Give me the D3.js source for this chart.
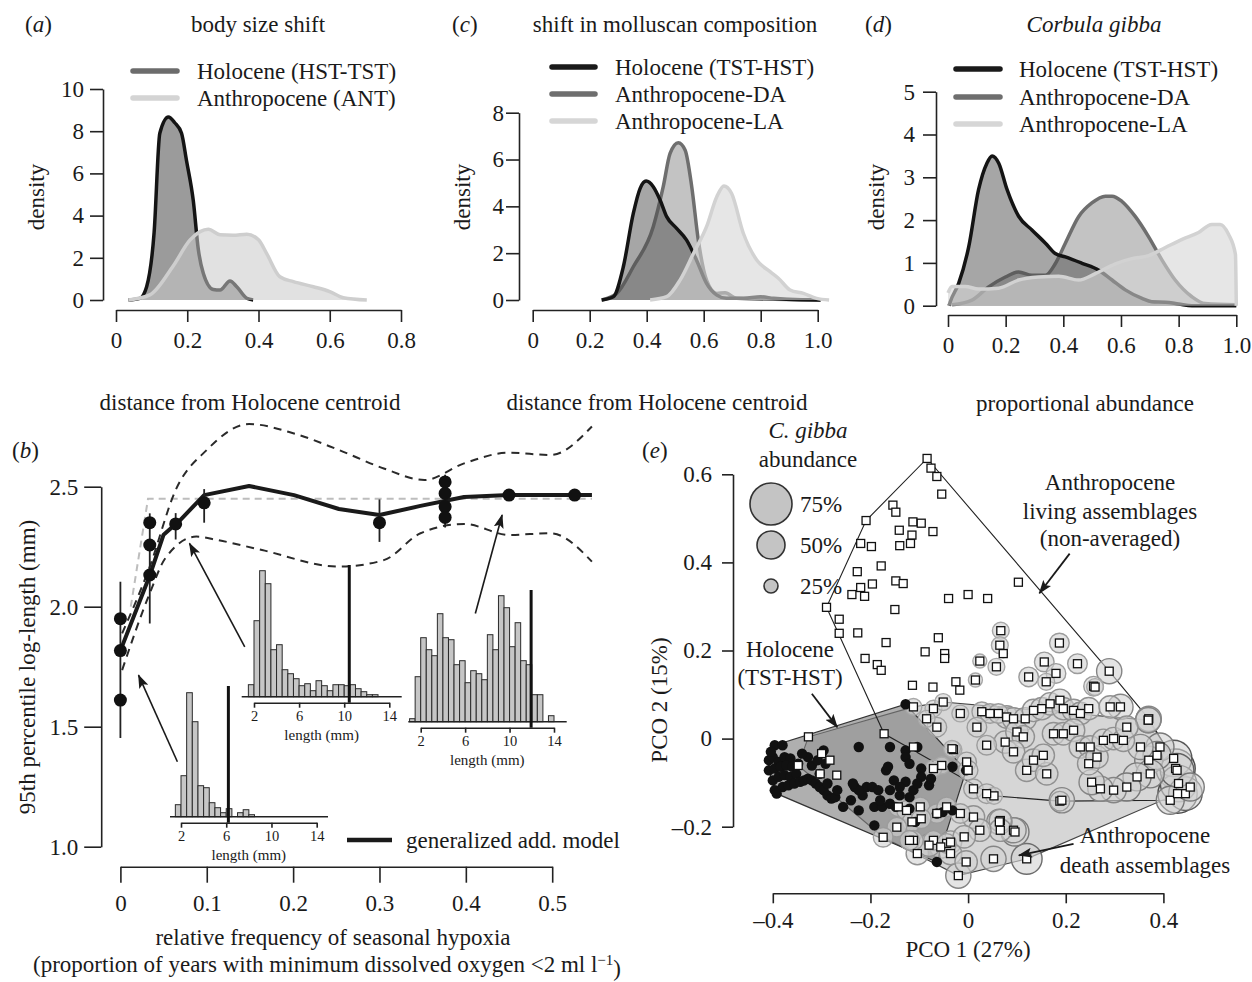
<!DOCTYPE html>
<meta charset="utf-8">
<style>
body { margin: 0; background: #fff; }
</style>
<body>
<script src="https://d3js.org/d3.v7.min.js"></script>
<script>
// ---------- data ----------
// (a) body size shift, density curves [x, density]
var holoA = [[0.035,0],[0.067,0.08],[0.086,0.63],[0.107,3.2],[0.123,7.9],[0.147,8.67],[0.165,8.4],[0.184,7.9],[0.198,6.6],[0.217,4.7],[0.231,2.4],[0.245,1.27],[0.273,0.5],[0.292,0.47],[0.32,0.9],[0.339,0.63],[0.367,0.08],[0.385,0]];
var anthA = [[0.035,0],[0.095,0.24],[0.16,1.6],[0.208,2.85],[0.236,3.24],[0.259,3.35],[0.292,3.09],[0.329,3.07],[0.367,3.12],[0.4,2.85],[0.423,2.2],[0.46,1.1],[0.498,0.87],[0.554,0.63],[0.6,0.4],[0.638,0.11],[0.704,0]];
// (c) shift in molluscan composition
var holoC = [[0.242,0],[0.283,0.14],[0.318,1.42],[0.353,3.7],[0.377,4.77],[0.398,5.08],[0.423,4.84],[0.447,4.27],[0.47,3.56],[0.505,3.06],[0.54,2.56],[0.575,1.7],[0.61,0.71],[0.646,0.21],[0.68,0.07],[0.74,0.07],[0.8,0.14],[0.845,0.07],[0.89,0.03],[1.01,0]];
var daC = [[0.242,0],[0.295,0.28],[0.353,1.42],[0.423,3.13],[0.458,4.84],[0.482,6.26],[0.511,6.72],[0.535,6.4],[0.558,4.84],[0.581,2.56],[0.61,0.85],[0.646,0.28],[0.675,0.31],[0.716,0.07],[1.01,0]];
var laC = [[0.412,0],[0.47,0.14],[0.517,0.85],[0.564,1.99],[0.61,3.13],[0.646,4.41],[0.671,4.87],[0.698,4.55],[0.739,2.85],[0.786,1.71],[0.833,1.21],[0.862,0.93],[0.903,0.43],[0.95,0.28],[0.996,0.07],[1.04,0]];
// (d) Corbula gibba
var holoD = [[0.004,0],[0.008,0.09],[0.037,0.52],[0.072,1.38],[0.106,2.71],[0.135,3.33],[0.153,3.5],[0.176,3.33],[0.205,2.71],[0.245,2.09],[0.291,1.77],[0.338,1.46],[0.372,1.22],[0.407,1.14],[0.465,0.99],[0.523,0.83],[0.569,0.6],[0.615,0.37],[0.673,0.17],[0.707,0.09],[0.754,0.08],[0.8,0.04],[0.846,0],[1.0,0]];
var daD = [[0.014,0.02],[0.083,0.13],[0.141,0.44],[0.199,0.67],[0.245,0.79],[0.291,0.71],[0.338,0.71],[0.372,0.98],[0.407,1.46],[0.453,2.08],[0.499,2.4],[0.546,2.56],[0.569,2.56],[0.603,2.44],[0.65,2.08],[0.696,1.61],[0.742,1.07],[0.788,0.6],[0.846,0.21],[0.892,0.05],[1.0,0.02]];
var laD = [[0.0,0.3],[0.014,0.45],[0.06,0.45],[0.106,0.39],[0.176,0.41],[0.245,0.6],[0.314,0.67],[0.384,0.69],[0.453,0.6],[0.511,0.75],[0.581,0.98],[0.638,1.1],[0.696,1.17],[0.754,1.36],[0.812,1.55],[0.869,1.71],[0.915,1.9],[0.944,1.9],[0.973,1.67],[0.997,1.2],[1.0,0]];

// (b) 95th percentile log-length vs hypoxia
var bPts = [[0,1.95],[0,1.817],[0,1.611],[0.034,2.35],[0.034,2.257],[0.034,2.132],[0.064,2.345],[0.097,2.433],[0.30,2.35],[0.376,2.52],[0.376,2.472],[0.376,2.417],[0.376,2.372],[0.45,2.465],[0.526,2.465]];
var bErr = [[0,1.453,2.104],[0.034,1.93,2.389],[0.064,2.28,2.39],[0.097,2.35,2.49],[0.30,2.27,2.447],[0.376,2.33,2.55]];
var gamLine = [[0,1.817],[0.034,2.13],[0.05,2.30],[0.069,2.36],[0.097,2.465],[0.149,2.503],[0.201,2.465],[0.253,2.407],[0.30,2.382],[0.3475,2.42],[0.398,2.457],[0.45,2.465],[0.546,2.465]];
var ciUp = [[0.002,1.889],[0.034,2.167],[0.064,2.486],[0.1,2.653],[0.149,2.761],[0.201,2.722],[0.253,2.653],[0.305,2.576],[0.352,2.528],[0.398,2.597],[0.45,2.642],[0.498,2.632],[0.546,2.751]];
var ciLo = [[0.002,1.736],[0.034,2.056],[0.052,2.202],[0.088,2.292],[0.112,2.278],[0.164,2.236],[0.253,2.167],[0.305,2.194],[0.3475,2.306],[0.398,2.345],[0.45,2.299],[0.498,2.306],[0.546,2.188]];
var nullLine = [[0.012,2.0],[0.032,2.45],[0.546,2.45]];
var bArrows = [[0.066,1.354,0.021,1.715],[0.144,1.833,0.080,2.264],[0.411,1.972,0.442,2.382]];

// inset histograms (0.5 mm bins), counts per bin, first bin start, 95th percentile
var hist1 = [12,41,124,95,31,29,14,9,4,8,0,4,7,2];
var hist2 = [12,76,126,113,47,52,27,23,18,11,13,6,16,11,6,12,12,11,12,8,5,2,2];
var hist3 = [3,45,84,72,66,108,84,82,57,61,39,51,48,42,87,72,126,114,75,99,61,57,27,27,0,6];
var histStart = [1.5, 1.5, 1.0];
var histQ95 = [6.19, 10.45, 11.94];

// (e) PCO ordination
var holoPts = [[-0.396,-0.015],[-0.380,-0.015],[-0.408,-0.049],[-0.400,-0.042],[-0.388,-0.053],[-0.376,-0.042],[-0.364,-0.045],
[-0.408,-0.072],[-0.396,-0.068],[-0.384,-0.064],[-0.372,-0.061],[-0.360,-0.064],[-0.348,-0.057],
[-0.400,-0.095],[-0.388,-0.087],[-0.376,-0.083],[-0.364,-0.087],[-0.352,-0.080],
[-0.396,-0.117],[-0.380,-0.110],[-0.368,-0.106],[-0.356,-0.102],[-0.344,-0.098],[-0.336,-0.095],[-0.328,-0.091],
[-0.320,-0.095],[-0.312,-0.102],[-0.304,-0.110],[-0.296,-0.117],[-0.288,-0.129],[-0.280,-0.136],[-0.272,-0.133],
[-0.256,-0.155],[-0.240,-0.140],[-0.224,-0.019],[-0.232,-0.110],[-0.208,-0.110],[-0.196,-0.110],[-0.184,-0.117],
[-0.216,-0.129],[-0.224,-0.163],[-0.192,-0.155],[-0.192,-0.197],[-0.176,-0.155],[-0.160,-0.148],[-0.160,-0.117],
[-0.152,-0.095],[-0.168,-0.072],[-0.164,-0.064],[-0.160,-0.019],[-0.128,0.078],[-0.128,-0.027],[-0.128,-0.042],
[-0.120,-0.057],[-0.104,-0.019],[-0.096,-0.068],[-0.096,-0.087],[-0.080,-0.106],[-0.076,-0.091],[-0.140,-0.129],
[-0.120,-0.133],[-0.112,-0.117],[-0.104,-0.102],[-0.128,-0.098],[-0.120,-0.159],[-0.108,-0.189],[-0.064,-0.170],
[-0.052,-0.167],[-0.032,-0.064],[-0.032,-0.163],[-0.004,-0.072],[-0.064,-0.280],[-0.140,-0.110],[-0.148,-0.155],
[-0.180,-0.140],[-0.268,-0.117],[-0.288,-0.102],[-0.304,-0.080],[-0.296,-0.027],[-0.328,-0.042],[-0.340,-0.034],
[-0.320,-0.061],[-0.308,-0.049],[-0.292,-0.057],[-0.224,-0.117],[-0.236,-0.102],[-0.392,-0.125],[-0.404,-0.030]];

// living assemblages [x, y, C. gibba proportion]
var laPts = [[-0.084,0.636,0],[-0.076,0.614,0],[-0.064,0.595,0],[-0.054,0.555,0],[-0.209,0.495,0],[-0.154,0.530,0],[-0.148,0.514,0],
[-0.113,0.492,0],[-0.096,0.489,0],[-0.072,0.470,0],[-0.141,0.473,0],[-0.115,0.462,0],[-0.140,0.438,0],[-0.118,0.443,0],
[-0.220,0.443,0],[-0.198,0.436,0],[-0.178,0.392,0],[-0.227,0.379,0],[-0.220,0.343,0],[-0.196,0.351,0],[-0.212,0.323,0],
[-0.238,0.327,0],[-0.148,0.358,0],[-0.133,0.352,0],[-0.150,0.293,0],[-0.290,0.298,0],[-0.264,0.271,0],[-0.264,0.239,0],
[-0.226,0.240,0],[-0.168,0.218,0],[-0.211,0.182,0],[-0.186,0.168,0],[-0.178,0.155,0],[-0.040,0.318,0],[0.000,0.327,0],
[0.040,0.318,0],[0.103,0.355,0],[-0.061,0.229,0],[-0.088,0.197,0],[-0.048,0.193,0.1],[-0.048,0.182,0],[-0.114,0.121,0],
[-0.072,0.117,0],[-0.025,0.129,0.1],[-0.017,0.110,0.1],[0.067,0.245,0.3],[0.065,0.212,0.3],[0.072,0.193,0.15],
[0.187,0.217,0.35],[0.156,0.174,0.35],[0.224,0.170,0.35],[0.289,0.153,0.45],[0.024,0.176,0.25],[0.058,0.163,0.3],
[0.015,0.133,0.25],[0.124,0.140,0.35],[0.180,0.148,0.35],[0.257,0.119,0.35],[0.160,0.129,0.3],
[-0.172,0.011,0],[-0.030,-0.025,0.3],[0.053,-0.130,0.3],[0.188,-0.142,0.35],[0.414,-0.140,0.5],[0.445,-0.125,0.6],
[0.369,0.042,0.45],[0.260,0.117,0.3],[0.455,-0.110,0.5],
[0.028,0.061,0.35],[0.045,0.057,0.35],[0.062,0.057,0.35],[0.079,0.049,0.4],[0.093,0.045,0.4],[0.117,0.045,0.4],
[0.134,0.064,0.4],[0.151,0.068,0.4],[0.168,0.079,0.4],[0.188,0.087,0.4],[0.195,0.068,0.4],[0.216,0.064,0.4],
[0.230,0.057,0.4],[0.247,0.068,0.4],[0.291,0.072,0.4],[0.312,0.072,0.45],[0.370,0.045,0.45],[0.038,-0.015,0.35],
[0.076,-0.008,0.4],[0.100,0.015,0.4],[0.113,0.004,0.4],[0.093,-0.030,0.4],[0.120,-0.072,0.4],[0.134,-0.049,0.4],
[0.161,-0.080,0.4],[0.154,-0.038,0.4],[0.175,0.011,0.4],[0.195,0.011,0.4],[0.216,0.019,0.4],[0.230,-0.019,0.4],
[0.250,-0.019,0.4],[0.247,-0.057,0.4],[0.264,-0.042,0.4],[0.277,-0.004,0.4],[0.298,0.000,0.4],[0.318,-0.004,0.4],
[0.325,0.026,0.4],[0.353,-0.019,0.45]];

// death assemblages [x, y, C. gibba proportion]
var daPts = [[-0.112,0.072,0.3],[-0.071,0.068,0.3],[-0.051,0.083,0.3],[-0.085,0.045,0.3],[-0.064,0.026,0.35],[-0.016,0.057,0.3],
[0.018,0.026,0.35],[-0.003,-0.053,0.35],[0.000,-0.072,0.35],[-0.054,-0.061,0.3],[-0.071,-0.068,0.3],[0.011,-0.114,0.35],
[0.038,-0.125,0.35],[-0.033,-0.023,0.3],[-0.112,-0.019,0.2],[-0.300,-0.034,0.05],[-0.283,-0.049,0.05],[-0.303,-0.080,0.05],
[-0.348,-0.061,0.05],[-0.327,0.004,0.05],[-0.269,-0.083,0.05],[-0.143,-0.155,0.35],[-0.126,-0.163,0.35],[-0.098,-0.155,0.35],
[-0.064,-0.170,0.35],[-0.044,-0.155,0.35],[-0.016,-0.170,0.35],[0.011,-0.178,0.4],[0.066,-0.186,0.4],[0.093,-0.208,0.45],
[0.066,-0.208,0.4],[0.024,-0.208,0.4],[-0.115,-0.189,0.35],[-0.146,-0.201,0.35],[-0.112,-0.231,0.35],[-0.071,-0.231,0.35],
[-0.044,-0.238,0.35],[-0.174,-0.224,0.35],[-0.120,-0.231,0.35],[-0.104,-0.261,0.4],[-0.056,-0.246,0.4],[-0.036,-0.235,0.4],
[-0.036,-0.261,0.4],[-0.004,-0.280,0.4],[-0.020,-0.311,0.45],[0.052,-0.273,0.45],[0.120,-0.273,0.55],[0.096,-0.212,0.5],
[0.064,-0.189,0.45],[-0.008,-0.223,0.4],[-0.080,-0.242,0.4],[-0.096,-0.182,0.35],[0.421,-0.045,0.65],[0.425,-0.068,0.7],
[0.429,-0.125,0.7],[0.431,-0.102,0.65],[0.428,-0.072,0.6],[0.393,-0.019,0.5],[0.370,-0.049,0.5],[0.387,-0.038,0.5],
[0.373,-0.080,0.5],[0.346,-0.087,0.5],[0.325,-0.110,0.5],[0.298,-0.117,0.45],[0.271,-0.114,0.45],[0.253,-0.099,0.45],
[0.192,-0.140,0.45],[0.369,0.042,0.45]];
var sizeLevels = [0.75, 0.5, 0.25];
var eArrows = [[0.208,0.420,0.146,0.330],[-0.320,0.102,-0.268,0.026],[0.216,-0.239,0.104,-0.265]];

// ticks
var ticksA = [0,0.2,0.4,0.6,0.8], yTicksA = [0,2,4,6,8,10];
var ticksC = [0,0.2,0.4,0.6,0.8,1.0], yTicksC = [0,2,4,6,8];
var yTicksD = [0,1,2,3,4,5];
var ticksBx = [0,0.1,0.2,0.3,0.4,0.5], ticksBy = [1.0,1.5,2.0,2.5];
var ticksEx = [-0.4,-0.2,0,0.2,0.4], ticksEy = [-0.2,0,0.2,0.4,0.6];
var insetTicks = [2,6,10,14];

// ---------- drawing ----------
var FONT = '"Liberation Serif", "Times New Roman", serif',
	INK = "#1a1a1a";

var svg = d3.select("body").append("svg")
			.attr("width", 1252)
			.attr("height", 982)
			.style("background", "#fff");

var defs = svg.append("defs");
defs.append("marker")
	.attr("id", "arr")
	.attr("viewBox", "0 0 14 10")
	.attr("refX", 13).attr("refY", 5)
	.attr("markerWidth", 14).attr("markerHeight", 10)
	.attr("markerUnits", "userSpaceOnUse")
	.attr("orient", "auto")
	.append("path")
	.attr("d", "M0,0 L14,5 L0,10 L3,5 z")
	.attr("fill", INK);

function fmt(d) {
	if (d === 0) return "0";
	if (d < 0) return "\u2013" + d3.format(".1f")(-d);
	return d3.format(".1f")(d);
}

function txt(x, y, s, o) {
	o = o || {};
	var t = svg.append("text")
		.attr("x", x).attr("y", y)
		.attr("font-family", FONT)
		.attr("font-size", o.fs || 23)
		.attr("text-anchor", o.anchor || "start")
		.attr("fill", INK);
	if (o.italic) t.attr("font-style", "italic");
	if (o.rot) t.attr("transform", "rotate(-90," + x + "," + y + ")");
	if (o.dy) t.attr("dy", o.dy);
	t.text(s);
	return t;
}

function panelLabel(x, y, letter) {
	var t = txt(x, y, "");
	t.append("tspan").text("(");
	t.append("tspan").attr("font-style", "italic").text(letter);
	t.append("tspan").text(")");
}

function styleAxis(g, fs) {
	g.attr("font-family", FONT).attr("font-size", fs || 23);
	g.selectAll("text").attr("fill", INK);
	g.select(".domain").attr("stroke", "#222").attr("stroke-width", 1.6);
	g.selectAll(".tick line").attr("stroke", "#222").attr("stroke-width", 1.6);
	return g;
}

function densityPanel(p) {
	var x = d3.scaleLinear().domain(p.xDom).range(p.xRange),
		y = d3.scaleLinear().domain(p.yDom).range(p.yRange);
	var area = d3.area().curve(d3.curveMonotoneX)
			.x(function(d) { return x(d[0]); })
			.y0(y(0))
			.y1(function(d) { return y(d[1]); }),
		line = d3.line().curve(d3.curveMonotoneX)
			.x(function(d) { return x(d[0]); })
			.y(function(d) { return y(d[1]); });

	p.series.forEach(function(s) {
		svg.append("path").attr("d", area(s.data))
			.attr("fill", s.fill).attr("fill-opacity", s.fo);
		svg.append("path").attr("d", line(s.data))
			.attr("fill", "none").attr("stroke", s.stroke)
			.attr("stroke-width", 3.5).attr("stroke-linejoin", "round");
	});

	styleAxis(svg.append("g")
		.attr("transform", "translate(" + p.yAxisX + ",0)")
		.call(d3.axisLeft(y).tickValues(p.yTicks).tickSize(13).tickSizeOuter(0)
			.tickPadding(p.yPad).tickFormat(d3.format("d"))));
	styleAxis(svg.append("g")
		.attr("transform", "translate(0," + p.xAxisY + ")")
		.call(d3.axisBottom(x).tickValues(p.xTicks).tickSize(12).tickSizeOuter(0)
			.tickPadding(10).tickFormat(fmt)));

	// legend
	p.legend.forEach(function(l, i) {
		var ly = p.legY[i];
		svg.append("line")
			.attr("x1", p.legX[0]).attr("x2", p.legX[1])
			.attr("y1", ly).attr("y2", ly)
			.attr("stroke", l.color).attr("stroke-width", 5.5)
			.attr("stroke-linecap", "round");
		txt(p.legX[2], ly, l.label, {dy: "0.35em"});
	});
	txt(p.ylabX, 197, "density", {rot: true, anchor: "middle", dy: "0.3em"});
}

// (a)
panelLabel(25, 32, "a");
txt(258, 32, "body size shift", {anchor: "middle"});
densityPanel({
	xDom: [0, 0.8], xRange: [116, 401], yDom: [0, 10], yRange: [300, 89],
	yAxisX: 103, xAxisY: 310, xTicks: ticksA, yTicks: yTicksA, yPad: 6, ylabX: 37,
	series: [
		{data: holoA, fill: "#9b9b9b", fo: 1, stroke: "#141414"},
		{data: anthA, fill: "#c8c8c8", fo: 0.55, stroke: "#cecece"}
	],
	legX: [133, 177, 197], legY: [71, 98],
	legend: [
		{label: "Holocene (HST-TST)", color: "#6c6c6c"},
		{label: "Anthropocene (ANT)", color: "#d4d4d4"}
	]
});

var seriesStyle = [
	{fill: "#bdbdbd", fo: 0.9, stroke: "#6e6e6e"},
	{fill: "#4d4d4d", fo: 0.5, stroke: "#141414"},
	{fill: "#d6d6d6", fo: 0.6, stroke: "#d2d2d2"}
];
var legend3 = [
	{label: "Holocene (TST-HST)", color: "#1a1a1a"},
	{label: "Anthropocene-DA", color: "#6e6e6e"},
	{label: "Anthropocene-LA", color: "#d6d6d6"}
];

// (c)
panelLabel(452, 32, "c");
txt(675, 32, "shift in molluscan composition", {anchor: "middle"});
densityPanel({
	xDom: [0, 1], xRange: [532.7, 817.7], yDom: [0, 8], yRange: [300, 112.7],
	yAxisX: 519, xAxisY: 310, xTicks: ticksC, yTicks: yTicksC, yPad: 2, ylabX: 463,
	series: [
		Object.assign({data: daC}, seriesStyle[0]),
		Object.assign({data: holoC}, seriesStyle[1]),
		Object.assign({data: laC}, seriesStyle[2])
	],
	legX: [552, 595, 615], legY: [67, 94, 121], legend: legend3
});

// (d)
panelLabel(865, 32, "d");
txt(1094, 32, "Corbula gibba", {anchor: "middle", italic: true});
densityPanel({
	xDom: [0, 1], xRange: [948, 1236.3], yDom: [0, 5], yRange: [305.7, 91.7],
	yAxisX: 936, xAxisY: 315, xTicks: ticksC, yTicks: yTicksD, yPad: 8, ylabX: 877,
	series: [
		Object.assign({data: daD}, seriesStyle[0]),
		Object.assign({data: holoD}, seriesStyle[1]),
		Object.assign({data: laD}, seriesStyle[2])
	],
	legX: [956, 1000, 1019], legY: [69, 97, 124], legend: legend3
});

// (b)
var xB = d3.scaleLinear().domain([0, 0.5]).range([120.4, 552.2]),
	yB = d3.scaleLinear().domain([1.0, 2.5]).range([846.7, 486.7]);

panelLabel(12, 458, "b");
txt(250, 410, "distance from Holocene centroid", {anchor: "middle"});
txt(657, 410, "distance from Holocene centroid", {anchor: "middle"});

styleAxis(svg.append("g")
	.attr("transform", "translate(101.2,0)")
	.call(d3.axisLeft(yB).tickValues(ticksBy).tickSize(17).tickSizeOuter(0)
		.tickPadding(6).tickFormat(d3.format(".1f"))));
styleAxis(svg.append("g")
	.attr("transform", "translate(0,866.7)")
	.call(d3.axisBottom(xB).tickValues(ticksBx).tickSize(16).tickSizeOuter(0)
		.tickPadding(12).tickFormat(fmt)));

txt(28, 667, "95th percentile log-length (mm)", {rot: true, anchor: "middle", dy: "0.3em"});
txt(333, 945, "relative frequency of seasonal hypoxia", {anchor: "middle"});
var xl2 = txt(327, 972, "(proportion of years with minimum dissolved oxygen <2 ml l", {anchor: "middle"});
xl2.append("tspan").attr("dy", "-0.45em").attr("font-size", 15).text("\u22121");
xl2.append("tspan").attr("dy", "0.45em").text(")");

var lineB = d3.line().x(function(d) { return xB(d[0]); }).y(function(d) { return yB(d[1]); }),
	smoothB = d3.line().curve(d3.curveMonotoneX)
		.x(function(d) { return xB(d[0]); }).y(function(d) { return yB(d[1]); });

svg.append("path").attr("d", lineB(nullLine))
	.attr("fill", "none").attr("stroke", "#bdbdbd")
	.attr("stroke-width", 2).attr("stroke-dasharray", "7,5");
[ciUp, ciLo].forEach(function(ci) {
	svg.append("path").attr("d", smoothB(ci))
		.attr("fill", "none").attr("stroke", "#2a2a2a")
		.attr("stroke-width", 2).attr("stroke-dasharray", "8,6");
});

// inset histograms
var insetLayout = [
	{x2: 181, x14: 316.7, base: 816.7, l: 170, r: 328, qTop: 686},
	{x2: 254, x14: 389.3, base: 696.7, l: 241.7, r: 401.7, qTop: 565},
	{x2: 420.7, x14: 554, base: 721.7, l: 408.3, r: 566.7, qTop: 590}
];
[hist1, hist2, hist3].forEach(function(counts, k) {
	var lay = insetLayout[k];
	var x = d3.scaleLinear().domain([2, 14]).range([lay.x2, lay.x14]),
		h = d3.scaleLinear().domain([0, 130]).range([0, 130]);
	var bins = counts.map(function(c, i) { return {x0: histStart[k] + i * 0.5, c: c}; })
		.filter(function(b) { return b.c > 0; });
	svg.append("g").selectAll("rect").data(bins).enter().append("rect")
		.attr("x", function(b) { return x(b.x0); })
		.attr("width", x(0.5) - x(0))
		.attr("y", function(b) { return lay.base - h(b.c); })
		.attr("height", function(b) { return h(b.c); })
		.attr("fill", "#c6c6c6").attr("stroke", "#2a2a2a").attr("stroke-width", 1);
	svg.append("line")
		.attr("x1", lay.l).attr("x2", lay.r).attr("y1", lay.base).attr("y2", lay.base)
		.attr("stroke", "#222").attr("stroke-width", 1.5);
	styleAxis(svg.append("g")
		.attr("transform", "translate(0," + (lay.base + 6) + ")")
		.call(d3.axisBottom(x).tickValues(insetTicks).tickSize(5).tickSizeOuter(0)
			.tickPadding(3).tickFormat(d3.format("d"))), 14.5);
	txt((lay.x2 + lay.x14) / 2, lay.base + 43, "length (mm)", {anchor: "middle", fs: 15});
	svg.append("line")
		.attr("x1", x(histQ95[k])).attr("x2", x(histQ95[k]))
		.attr("y1", lay.qTop).attr("y2", lay.base + 6)
		.attr("stroke", "#111").attr("stroke-width", 3);
});

// arrows in (b)
bArrows.forEach(function(a) {
	svg.append("line")
		.attr("x1", xB(a[0])).attr("y1", yB(a[1]))
		.attr("x2", xB(a[2])).attr("y2", yB(a[3]))
		.attr("stroke", INK).attr("stroke-width", 1.6)
		.attr("marker-end", "url(#arr)");
});

// GAM fit, error bars, points
svg.append("path").attr("d", lineB(gamLine))
	.attr("fill", "none").attr("stroke", "#1a1a1a")
	.attr("stroke-width", 4).attr("stroke-linejoin", "round");
svg.append("g").selectAll("line").data(bErr).enter().append("line")
	.attr("x1", function(d) { return xB(d[0]); }).attr("x2", function(d) { return xB(d[0]); })
	.attr("y1", function(d) { return yB(d[1]); }).attr("y2", function(d) { return yB(d[2]); })
	.attr("stroke", "#222").attr("stroke-width", 1.8);
svg.append("g").selectAll("circle").data(bPts).enter().append("circle")
	.attr("cx", function(d) { return xB(d[0]); })
	.attr("cy", function(d) { return yB(d[1]); })
	.attr("r", 6.5).attr("fill", "#111");

svg.append("line").attr("x1", 347).attr("x2", 392).attr("y1", 840).attr("y2", 840)
	.attr("stroke", "#1a1a1a").attr("stroke-width", 4.5);
txt(406, 840, "generalized add. model", {dy: "0.35em"});

// (e)
var xE = d3.scaleLinear().domain([-0.4, 0.4]).range([772.8, 1163.4]),
	yE = d3.scaleLinear().domain([-0.2, 0.6]).range([826.7, 474.3]),
	rE = d3.scaleLinear().domain([0, 1]).range([0, 28]),
	ringCol = d3.scaleLinear().domain([0.3, 0.7]).range(["#a8a8a8", "#4a4a4a"]).clamp(true);

panelLabel(642, 458, "e");
txt(1085, 411, "proportional abundance", {anchor: "middle"});

function hull(pts) {
	return d3.polygonHull(pts.map(function(d) { return [xE(d[0]), yE(d[1])]; }));
}
function hullPath(h) { return "M" + h.join("L") + "Z"; }

svg.append("path").attr("d", hullPath(hull(daPts)))
	.attr("fill", "#d6d6d6").attr("stroke", "#444").attr("stroke-width", 1.1);
svg.append("path").attr("d", hullPath(hull(holoPts)))
	.attr("fill", "#7a7a7a").attr("fill-opacity", 0.6)
	.attr("stroke", "#333").attr("stroke-width", 1.2);
svg.append("path").attr("d", hullPath(hull(laPts)))
	.attr("fill", "none").attr("stroke", "#222").attr("stroke-width", 1.1);

var sq = laPts.concat(daPts);
svg.append("g").selectAll("circle")
	.data(sq.filter(function(d) { return d[2] > 0.12; })
		.sort(function(a, b) { return b[2] - a[2]; }))
	.enter().append("circle")
	.attr("cx", function(d) { return xE(d[0]); })
	.attr("cy", function(d) { return yE(d[1]); })
	.attr("r", function(d) { return rE(d[2]); })
	.attr("fill", "#d2d2d2").attr("fill-opacity", 0.6)
	.attr("stroke", function(d) { return ringCol(d[2]); }).attr("stroke-width", 1.4);

svg.append("g").selectAll("circle").data(holoPts).enter().append("circle")
	.attr("cx", function(d) { return xE(d[0]); })
	.attr("cy", function(d) { return yE(d[1]); })
	.attr("r", 5.2).attr("fill", "#111");

svg.append("g").selectAll("rect").data(sq).enter().append("rect")
	.attr("x", function(d) { return xE(d[0]) - 4; })
	.attr("y", function(d) { return yE(d[1]) - 4; })
	.attr("width", 8).attr("height", 8)
	.attr("fill", "#fff").attr("stroke", "#111").attr("stroke-width", 1.3);

styleAxis(svg.append("g")
	.attr("transform", "translate(733,0)")
	.call(d3.axisLeft(yE).tickValues(ticksEy).tickSize(11).tickSizeOuter(0)
		.tickPadding(10).tickFormat(fmt)));
styleAxis(svg.append("g")
	.attr("transform", "translate(0,893.3)")
	.call(d3.axisBottom(xE).tickValues(ticksEx).tickSize(10).tickSizeOuter(0)
		.tickPadding(8).tickFormat(fmt)));
txt(660, 700, "PCO 2 (15%)", {rot: true, anchor: "middle", dy: "0.3em"});
txt(968, 957, "PCO 1 (27%)", {anchor: "middle"});

// size legend
txt(808, 438, "C. gibba", {anchor: "middle", italic: true});
txt(808, 467, "abundance", {anchor: "middle"});
var legCy = [504, 545, 586];
sizeLevels.forEach(function(p, i) {
	svg.append("circle").attr("cx", 771).attr("cy", legCy[i]).attr("r", rE(p))
		.attr("fill", "#c4c4c4").attr("stroke", "#333").attr("stroke-width", 1.6);
	txt(800, legCy[i], d3.format(".0%")(p), {dy: "0.35em"});
});

// annotations
txt(1110, 490, "Anthropocene", {anchor: "middle"});
txt(1110, 519, "living assemblages", {anchor: "middle"});
txt(1110, 546, "(non-averaged)", {anchor: "middle"});
txt(790, 657, "Holocene", {anchor: "middle"});
txt(790, 685, "(TST-HST)", {anchor: "middle"});
txt(1145, 843, "Anthropocene", {anchor: "middle"});
txt(1145, 873, "death assemblages", {anchor: "middle"});
eArrows.forEach(function(a) {
	svg.append("line")
		.attr("x1", xE(a[0])).attr("y1", yE(a[1]))
		.attr("x2", xE(a[2])).attr("y2", yE(a[3]))
		.attr("stroke", INK).attr("stroke-width", 1.8)
		.attr("marker-end", "url(#arr)");
});
</script>
</body>
